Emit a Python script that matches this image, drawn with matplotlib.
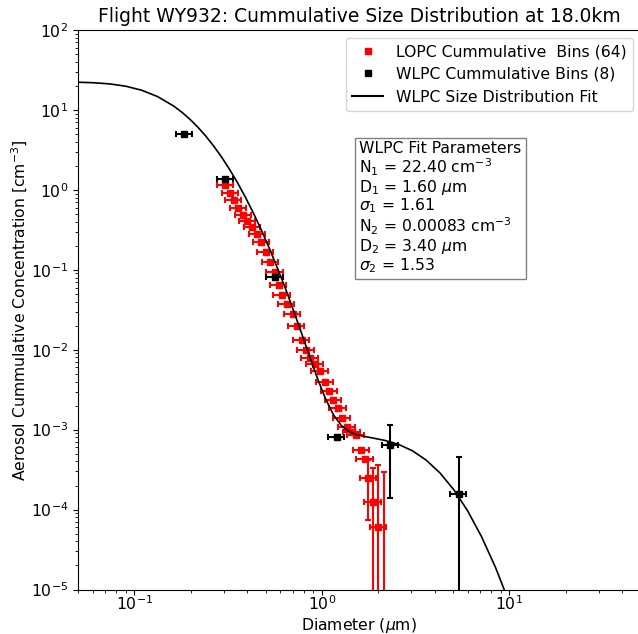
import numpy as np
import matplotlib
matplotlib.use("Agg")
import matplotlib.pyplot as plt
from matplotlib.lines import Line2D

FLIGHT = "WY932"
ALTITUDE_KM = 18.0

# LOPC cumulative bins: diameter [um], concentration [cm^-3], error [cm^-3]
lopc_diam = [0.3048, 0.3241, 0.3383, 0.3574, 0.3800, 0.3991, 0.4243, 0.4511,
             0.4736, 0.5006, 0.5291, 0.5623, 0.5870, 0.6125, 0.6474, 0.6966,
             0.7318, 0.7780, 0.8220, 0.8635, 0.9179, 0.9759, 1.0375, 1.0962,
             1.1512, 1.2163, 1.2777, 1.3583, 1.4439, 1.5165, 1.6223, 1.6930,
             1.7672, 1.8670, 1.9975, 2.137]
lopc_conc = [1.148, 0.912, 0.745, 0.592, 0.491, 0.4128, 0.3424, 0.2838,
             0.2222, 0.1665, 0.1249, 0.09359, 0.06434, 0.04825, 0.03776, 0.02830,
             0.01974, 0.01319, 0.01003, 0.007851, 0.006699, 0.005400, 0.003932, 0.003033,
             0.002339, 0.001885, 0.001413, 0.001075, 0.000930, 0.000853, 0.000554, 0.000427,
             0.000247, 0.0001238, 0.0000602, 0.000004]
lopc_err = [0.057, 0.046, 0.037, 0.030, 0.025, 0.021, 0.017, 0.014,
            0.011, 0.0083, 0.0062, 0.0047, 0.0032, 0.0024, 0.0019, 0.0014,
            0.00099, 0.00066, 0.0005, 0.00039, 0.00033, 0.00027, 0.0002, 0.00015,
            0.00012, 0.000094, 0.00007, 0.000054, 0.000047, 0.000043, 0.000028, 0.000021,
            0.000173, 0.000206, 0.0003, 0.00029]

# WLPC cumulative bins
wlpc_diam = [0.1845, 0.3048, 0.5623, 1.197, 2.319, 5.354]
wlpc_conc = [4.99, 1.365, 0.0810, 0.000799, 0.000640, 0.0001558]
wlpc_err = [0.15, 0.05, 0.006, 0.00006, 0.0005, 0.0003]

DIAM_REL_ERR = 0.1

# WLPC bimodal size distribution fit
fit_diam = [0.0498, 0.06059, 0.07375, 0.08976, 0.1092, 0.1329, 0.1617, 0.1784,
            0.1968, 0.2171, 0.2394, 0.2641, 0.2914, 0.3214, 0.3546, 0.3911,
            0.4314, 0.4759, 0.5250, 0.5791, 0.6389, 0.7047, 0.7774, 0.8575,
            0.9459, 1.0435, 1.1511, 1.2699, 1.4008, 1.5376, 1.8228, 2.1608,
            2.5615, 3.0368, 3.6, 4.2675, 5.0596, 5.9973, 7.1095, 8.4275,
            9.9915, 11.843]
fit_conc = [22.22, 21.89, 21.17, 19.82, 17.65, 14.68, 11.2, 9.424,
            7.72, 6.144, 4.747, 3.555, 2.578, 1.810, 1.2275, 0.8042,
            0.5096, 0.3114, 0.1845, 0.1044, 0.0582, 0.03107, 0.01622, 0.00838,
            0.00439, 0.002449, 0.001537, 0.001122, 0.00094, 0.00086, 0.000794, 0.000734,
            0.000654, 0.000544, 0.000415, 0.000286, 0.0001759, 0.00009553, 0.00004548, 0.00001888,
            0.000006806, 0.00000212]

n1, d1, s1 = 22.40, 1.60, 1.61
n2, d2, s2 = 0.00083, 3.40, 1.53

plt.rcParams["font.size"] = 11.25

fig = plt.figure(figsize=(6.38, 6.34), dpi=100)
ax = fig.add_axes([78 / 638, 44.5 / 634, 562.5 / 638, 559.5 / 634])

lopc_diam = np.array(lopc_diam)
wlpc_diam = np.array(wlpc_diam)

ebkw = dict(fmt="none", elinewidth=1.5, capsize=2.5, capthick=1.5)
ax.errorbar(lopc_diam, lopc_conc, xerr=DIAM_REL_ERR * lopc_diam, yerr=lopc_err,
            ecolor="r", **ebkw)
ax.plot(lopc_diam, lopc_conc, "s", color="r", ms=5)
ax.errorbar(wlpc_diam, wlpc_conc, xerr=DIAM_REL_ERR * wlpc_diam, yerr=wlpc_err,
            ecolor="k", **ebkw)
ax.plot(wlpc_diam, wlpc_conc, "s", color="k", ms=4.5)
ax.plot(fit_diam, fit_conc, color="k", lw=1.2)

ax.set_xscale("log")
ax.set_yscale("log")
ax.set_xlim(0.05, 50)
ax.set_ylim(1e-5, 1e2)
ax.tick_params(axis="x", which="major", pad=0)
ax.set_xlabel(r"Diameter ($\mu$m)", labelpad=2)
ax.set_ylabel(r"Aerosol Cummulative Concentration [cm$^{-3}$]", labelpad=0.4)
ax.set_title(f"Flight {FLIGHT}: Cummulative Size Distribution at {ALTITUDE_KM:.1f}km")

handles = [
    Line2D([], [], ls="none", marker="s", color="r", ms=5),
    Line2D([], [], ls="none", marker="s", color="k", ms=5),
    Line2D([], [], color="k", lw=1.5),
]
labels = ["LOPC Cummulative  Bins (64)", "WLPC Cummulative Bins (8)",
          "WLPC Size Distribution Fit"]
ax.legend(handles, labels, loc="upper right", numpoints=1)

txt = ("WLPC Fit Parameters\n"
       f"N$_1$ = {n1:.2f} cm$^{{-3}}$\n"
       f"D$_1$ = {d1:.2f} $\\mu$m\n"
       f"$\\sigma_1$ = {s1:.2f}\n"
       f"N$_2$ = {n2:.5f} cm$^{{-3}}$\n"
       f"D$_2$ = {d2:.2f} $\\mu$m\n"
       f"$\\sigma_2$ = {s2:.2f}")
ax.text(0.500, 0.801, txt, transform=ax.transAxes, ha="left", va="top",
        linespacing=1.0,
        bbox=dict(boxstyle="square,pad=0.3", fc="w", ec="gray"))

fig.savefig("out.png", dpi=100)
